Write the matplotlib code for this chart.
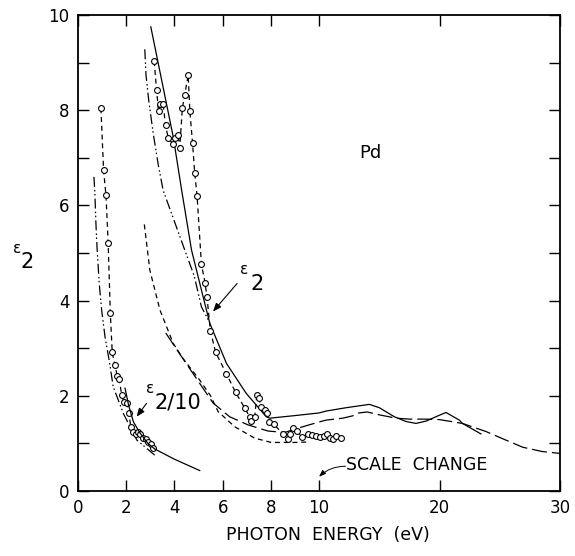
import numpy as np
import matplotlib
matplotlib.use("Agg")
import matplotlib.pyplot as plt

plt.rcParams['font.family'] = ['DejaVu Sans']

# --- data (photon energy in eV, epsilon_2) ---
# eps2/10 group
dots10_x = [0.66, 0.70, 0.74, 0.79, 0.88, 0.98, 1.12, 1.30, 1.46, 1.88, 2.44, 3.19]
dots10_y = [6.60, 6.24, 5.65, 5.10, 4.36, 3.80, 3.24, 2.72, 2.19, 1.63, 1.07, 0.75]

circ10_x = [0.95, 1.06, 1.16, 1.25, 1.34, 1.42, 1.53, 1.63, 1.71, 1.81, 1.90, 2.02,
            2.11, 2.19, 2.29, 2.39, 2.50, 2.57, 2.68, 2.80, 2.91, 3.01, 3.12]
circ10_y = [8.04, 6.74, 6.21, 5.22, 3.73, 2.91, 2.64, 2.42, 2.35, 2.02, 1.88, 1.84,
            1.63, 1.35, 1.25, 1.20, 1.25, 1.19, 1.11, 1.09, 1.04, 0.98, 0.91]

theo10_x = [1.95, 2.10, 2.30, 2.57, 2.90, 3.19, 3.50, 3.95, 4.43, 5.05]
theo10_y = [2.16, 1.80, 1.45, 1.22, 1.00, 0.88, 0.80, 0.68, 0.57, 0.43]

# eps2 group
dots_x = [2.77, 2.82, 2.94, 3.12, 3.33, 3.53, 3.98, 4.43, 4.82, 5.12, 5.45]
dots_y = [9.28, 8.74, 8.18, 7.51, 6.85, 6.32, 5.69, 5.06, 4.52, 3.87, 3.55]

circ_x = [3.16, 3.26, 3.34, 3.40, 3.53, 3.63, 3.74, 3.92, 4.02, 4.15, 4.22, 4.33,
          4.43, 4.57, 4.64, 4.75, 4.84, 4.94, 5.12, 5.27, 5.35, 5.49, 5.71, 6.16,
          6.54, 6.92, 7.12, 7.19, 7.33, 7.42, 7.51, 7.58, 7.74, 7.84, 7.92, 8.13,
          8.50, 8.71, 8.78, 8.92, 9.08, 9.30, 9.54, 9.72, 9.88, 10.1, 10.38, 10.68,
          10.93, 11.15, 11.43, 11.8]
circ_y = [9.03, 8.42, 7.98, 8.13, 8.13, 7.69, 7.42, 7.30, 7.41, 7.48, 7.21, 8.05,
          8.33, 8.74, 7.98, 7.32, 6.69, 6.20, 4.76, 4.38, 4.08, 3.37, 2.91, 2.46,
          2.07, 1.74, 1.56, 1.47, 1.55, 2.02, 1.95, 1.77, 1.70, 1.63, 1.46, 1.40,
          1.20, 1.09, 1.20, 1.32, 1.27, 1.13, 1.20, 1.18, 1.16, 1.13, 1.16, 1.20,
          1.11, 1.09, 1.16, 1.12]

theo_x = [3.02, 3.33, 3.95, 4.29, 4.71, 5.19, 5.47, 6.16, 6.98, 7.81, 7.95, 8.92,
          10.0, 10.6, 12.25, 13.35, 14.18, 15.0, 16.25, 17.22, 18.04, 18.9, 19.7,
          20.53, 21.64, 21.9, 23.43]
theo_y = [9.75, 8.98, 7.44, 6.35, 5.06, 4.08, 3.52, 2.68, 2.05, 1.56, 1.53, 1.58,
          1.64, 1.68, 1.75, 1.79, 1.82, 1.75, 1.56, 1.46, 1.42, 1.47, 1.56,
          1.65, 1.49, 1.42, 1.20]

short_x = [2.75, 2.98, 3.40, 3.95, 4.36, 5.05, 5.50, 5.81, 6.50, 7.33, 8.02, 8.98, 9.60]
short_y = [5.60, 4.64, 3.80, 3.10, 2.78, 2.33, 2.00, 1.67, 1.35, 1.11, 1.02, 1.02, 1.03]

long_x = [3.64, 4.22, 5.05, 5.60, 6.29, 7.05, 7.88, 8.57, 9.19, 10.0, 10.6, 11.97,
          12.8, 13.3, 14.0, 15.0, 16.4, 17.5, 18.9, 20.0, 21.9, 23.85, 25.5, 26.9,
          28.5, 30.0]
long_y = [3.32, 2.88, 2.26, 1.85, 1.56, 1.39, 1.26, 1.23, 1.33, 1.45, 1.49, 1.53,
          1.58, 1.64, 1.66, 1.60, 1.53, 1.51, 1.51, 1.50, 1.42, 1.25, 1.07, 0.92,
          0.83, 0.79]

x_ticks = [0, 2, 4, 6, 8, 10, 20, 30]
x_labels = ['0', '2', '4', '6', '8', '10', '20', '30']


def fwd(x):
    x = np.asarray(x, dtype=float)
    return np.where(x <= 10, x, 10 + (x - 10) / 2)


def inv(x):
    x = np.asarray(x, dtype=float)
    return np.where(x <= 10, x, 10 + (x - 10) * 2)


fig = plt.figure(figsize=(5.75, 5.56), dpi=100)
ax = fig.add_axes([0.1357, 0.1169, 0.8383, 0.8561])
ax.set_xscale('function', functions=(fwd, inv))

k = dict(color='black', lw=0.9)
dashdotdot = (0, (8, 2.5, 1.2, 2, 1.2, 2.5))
ax.plot(dots10_x, dots10_y, linestyle=dashdotdot, **k)
ax.plot(circ10_x, circ10_y, linestyle=(0, (4, 3)), marker='o', ms=4.2,
        mfc='white', mec='black', mew=0.8, **k)
ax.plot(theo10_x, theo10_y, linestyle='-', **k)

ax.plot(dots_x, dots_y, linestyle=dashdotdot, **k)
ax.plot(theo_x, theo_y, linestyle='-', **k)
ax.plot(short_x, short_y, linestyle=(0, (4, 3)), **k)
ax.plot(long_x, long_y, linestyle=(0, (12, 4)), **k)
ax.plot(circ_x, circ_y, linestyle=(0, (4, 3)), marker='o', ms=4.2,
        mfc='white', mec='black', mew=0.8, **k)

ax.set_xlim(0, 30)
ax.set_ylim(0, 10)
ax.set_xticks(x_ticks)
ax.set_xticklabels(x_labels)
ax.set_yticks([0, 2, 4, 6, 8, 10])
ax.set_yticks([1, 3, 5, 7, 9], minor=True)
ax.xaxis.set_minor_locator(matplotlib.ticker.NullLocator())
ax.tick_params(which='both', direction='in', top=True, right=True,
               length=8, width=1.0, labelsize=12, pad=6)
for s in ax.spines.values():
    s.set_linewidth(1.3)

# axis labels
fig.text(0.57, 0.038, 'PHOTON  ENERGY  (eV)', fontsize=12.5,
         ha='center', va='center')
fig.text(0.022, 0.545, '\u03b5', fontsize=11)
fig.text(0.036, 0.518, '2', fontsize=15)

# annotations
ax.text(14.3, 7.1, 'Pd', fontsize=13, ha='center', va='center')

ax.text(6.72, 4.56, '\u03b5', fontsize=11)
ax.text(7.15, 4.22, '2', fontsize=15)
ax.annotate('', xy=(5.6, 3.77), xytext=(6.6, 4.36),
            arrowprops=dict(arrowstyle='-|>,head_length=0.5,head_width=0.2',
                            color='black', lw=0.8, shrinkA=0, shrinkB=0))

ax.text(2.82, 2.06, '\u03b5', fontsize=11)
ax.text(3.18, 1.73, '2/10', fontsize=15)
ax.annotate('', xy=(2.43, 1.56), xytext=(2.84, 1.84),
            arrowprops=dict(arrowstyle='-|>,head_length=0.5,head_width=0.2',
                            color='black', lw=0.8, shrinkA=0, shrinkB=0))

ax.text(12.25, 0.55, 'SCALE  CHANGE', fontsize=12.5, va='center')
ax.annotate('', xy=(10.0, 0.3), xytext=(12.2, 0.52),
            arrowprops=dict(arrowstyle='-|>,head_length=0.4,head_width=0.15',
                            color='black', lw=0.7, shrinkA=0, shrinkB=0,
                            connectionstyle='arc3,rad=0.2'))

fig.savefig('out.png', dpi=100)
